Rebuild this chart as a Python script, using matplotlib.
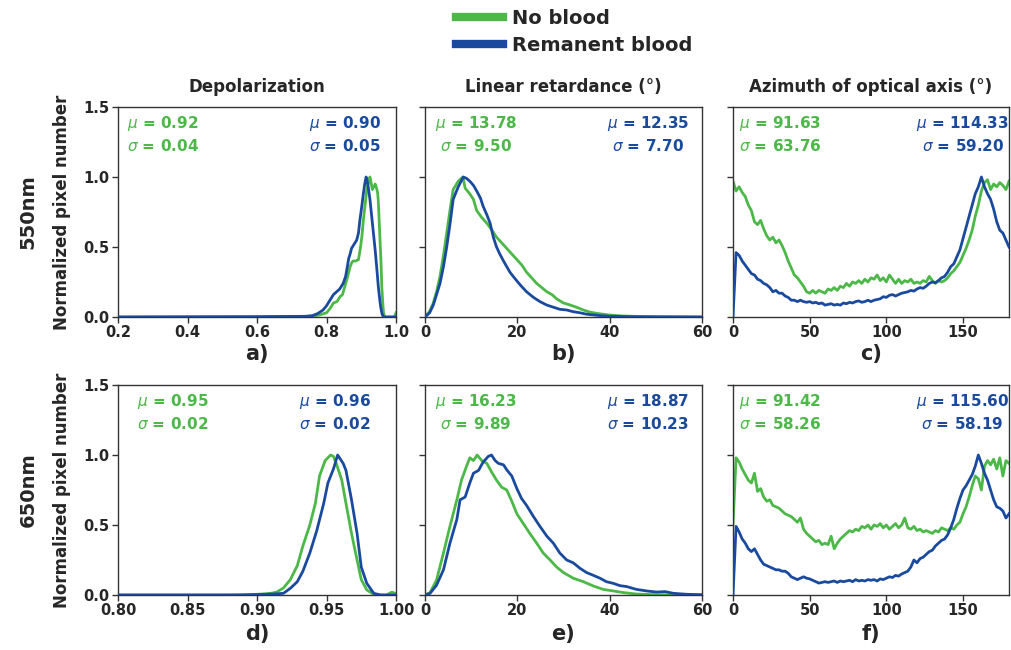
import numpy as np
import matplotlib.pyplot as plt
from matplotlib.lines import Line2D

GREEN = "#4cb848"
BLUE = "#1a4a9e"
DARK = "#262626"

# ---------------- Depolarization ----------------
dep550_nb_x = [0.20, 0.60, 0.76, 0.78, 0.80, 0.81, 0.82, 0.83, 0.839, 0.846, 0.853, 0.86, 0.868, 0.873,
               0.877, 0.884, 0.892, 0.898, 0.902, 0.906, 0.911, 0.916, 0.921, 0.925, 0.929, 0.932, 0.935,
               0.937, 0.940, 0.944, 0.947, 0.949, 0.951, 0.954, 0.957, 0.959, 0.962, 0.964, 0.968, 0.98,
               0.995, 1.0]
dep550_nb_y = [0, 0.002, 0.005, 0.015, 0.03, 0.06, 0.10, 0.11, 0.145, 0.16, 0.22, 0.28, 0.36, 0.39,
               0.40, 0.40, 0.41, 0.50, 0.58, 0.69, 0.80, 0.91, 0.96, 1.0, 0.95, 0.91, 0.93,
               0.93, 0.95, 0.92, 0.89, 0.83, 0.72, 0.55, 0.38, 0.22, 0.10, 0.03, 0.0, 0.0,
               0.0, 0.03]
dep550_rb_x = [0.20, 0.60, 0.74, 0.76, 0.775, 0.79, 0.80, 0.81, 0.82, 0.829, 0.838, 0.848, 0.855, 0.86,
               0.864, 0.868, 0.872, 0.877, 0.882, 0.887, 0.892, 0.896, 0.901, 0.906, 0.910, 0.914, 0.917,
               0.920, 0.925, 0.930, 0.935, 0.940, 0.945, 0.949, 0.953, 0.956, 0.960, 0.964, 1.0]
dep550_rb_y = [0, 0.002, 0.005, 0.01, 0.025, 0.05, 0.08, 0.12, 0.16, 0.18, 0.20, 0.24, 0.29, 0.36,
               0.42, 0.45, 0.49, 0.51, 0.53, 0.55, 0.60, 0.69, 0.78, 0.88, 0.95, 1.0, 0.97,
               0.93, 0.84, 0.72, 0.60, 0.48, 0.34, 0.22, 0.13, 0.07, 0.02, 0.0, 0.0]

dep650_nb_x = [0.80, 0.88, 0.90, 0.905, 0.91, 0.914, 0.919, 0.924, 0.929, 0.933, 0.938, 0.942, 0.945, 0.949,
               0.953, 0.955, 0.957, 0.961, 0.964, 0.968, 0.972, 0.975, 0.979, 0.984, 0.988, 0.993, 0.997, 1.0]
dep650_nb_y = [0, 0.0, 0.005, 0.008, 0.012, 0.02, 0.05, 0.11, 0.21, 0.35, 0.50, 0.655, 0.85, 0.96,
               1.0, 0.99, 0.94, 0.82, 0.655, 0.44, 0.25, 0.11, 0.036, 0.005, 0.0, 0.0, 0.02, 0.01]
dep650_rb_x = [0.80, 0.89, 0.907, 0.914, 0.919, 0.924, 0.929, 0.933, 0.938, 0.943, 0.948, 0.951, 0.955,
               0.958, 0.962, 0.964, 0.968, 0.972, 0.975, 0.979, 0.984, 0.989, 1.0]
dep650_rb_y = [0, 0.0, 0.005, 0.008, 0.012, 0.048, 0.095, 0.17, 0.30, 0.46, 0.655, 0.80, 0.90,
               1.0, 0.94, 0.89, 0.68, 0.44, 0.20, 0.083, 0.012, 0.0, 0.0]

# ---------------- Linear retardance ----------------
ret550_nb_x = [0, 1, 1.8, 2.5, 3.25, 4, 4.7, 5.4, 6.1, 7.2, 8.2, 8.7, 9.7, 10.5, 11.2, 12.3, 13.4, 14.5,
               15.5, 16.6, 17.7, 18.8, 19.9, 21, 22, 23.1, 24.2, 25.3, 26.4, 27.5, 28.5, 30, 31.4, 32.8,
               34.3, 35.7, 37.2, 38.6, 40, 42.5, 45, 50, 55, 60]
ret550_nb_y = [0, 0.04, 0.10, 0.18, 0.29, 0.44, 0.60, 0.76, 0.91, 0.97, 1.0, 0.92, 0.88, 0.84, 0.76, 0.71,
               0.67, 0.62, 0.57, 0.53, 0.49, 0.45, 0.41, 0.37, 0.32, 0.28, 0.24, 0.21, 0.18, 0.16, 0.13,
               0.10, 0.086, 0.07, 0.05, 0.035, 0.026, 0.02, 0.014, 0.008, 0.005, 0.002, 0.001, 0]
ret550_rb_x = [0, 1, 1.8, 2.5, 3.25, 4, 4.7, 5.4, 6.1, 7.2, 8.3, 9.0, 9.7, 10.5, 11.2, 12.0, 12.6, 13.4,
               14.1, 14.8, 15.5, 16.2, 17.0, 17.7, 18.4, 19.1, 20.6, 22.0, 23.5, 24.9, 26.4, 27.8, 29.2,
               30.7, 32.1, 33.6, 35, 37.9, 40, 45, 50, 60]
ret550_rb_y = [0, 0.03, 0.086, 0.16, 0.24, 0.36, 0.50, 0.66, 0.84, 0.93, 1.0, 0.99, 0.97, 0.94, 0.90,
               0.85, 0.79, 0.73, 0.67, 0.57, 0.50, 0.45, 0.40, 0.36, 0.32, 0.29, 0.23, 0.18, 0.14, 0.11,
               0.085, 0.07, 0.055, 0.05, 0.038, 0.03, 0.02, 0.01, 0.005, 0.002, 0.001, 0]

ret650_nb_x = [0, 1.1, 2.5, 4, 5.4, 6.9, 7.9, 9, 9.7, 10.5, 11.3, 12.3, 13.4, 14.4, 15.5, 16.6, 17.7,
               18.8, 19.9, 21.3, 22.7, 24.2, 25.6, 27.1, 28.5, 30, 32.1, 34.3, 36.5, 38.6, 40.8, 43, 45.8,
               50, 55, 60]
ret650_nb_y = [0, 0.017, 0.107, 0.30, 0.49, 0.68, 0.82, 0.92, 0.98, 0.96, 1.0, 0.96, 0.94, 0.88, 0.82,
               0.77, 0.75, 0.67, 0.58, 0.51, 0.44, 0.37, 0.30, 0.25, 0.20, 0.16, 0.12, 0.095, 0.064, 0.04,
               0.029, 0.017, 0.007, 0.002, 0, 0]
ret650_rb_x = [0, 1.1, 2.5, 4, 5.4, 6.9, 7.6, 8.7, 9.7, 10.5, 11.6, 12.6, 13.7, 14.4, 15.2, 15.9, 17,
               17.8, 18.8, 19.9, 20.9, 22, 23.5, 24.9, 26.4, 27.8, 29.2, 30.7, 32.1, 33.6, 35, 36.5, 37.9,
               39.3, 40.8, 42.2, 43.7, 45.8, 48, 50.1, 52, 53.8, 56.7, 60]
ret650_rb_y = [0, 0.012, 0.07, 0.18, 0.37, 0.54, 0.68, 0.70, 0.80, 0.87, 0.89, 0.95, 0.99, 1.0, 0.96,
               0.94, 0.93, 0.89, 0.85, 0.76, 0.69, 0.64, 0.56, 0.49, 0.42, 0.37, 0.30, 0.25, 0.23, 0.19,
               0.16, 0.14, 0.12, 0.095, 0.083, 0.067, 0.06, 0.04, 0.029, 0.021, 0.024, 0.012, 0.005, 0.002]

# ---------------- Azimuth of optical axis (2 degree bins) ----------------
azi_x = np.arange(0, 181, 2)
azi550_nb = [0.97, 0.90, 0.93, 0.89, 0.86, 0.80, 0.76, 0.68, 0.66, 0.69,
             0.63, 0.58, 0.55, 0.57, 0.53, 0.55, 0.51, 0.46, 0.40, 0.35,
             0.30, 0.28, 0.25, 0.22, 0.18, 0.17, 0.19, 0.17, 0.19, 0.18,
             0.17, 0.20, 0.19, 0.21, 0.19, 0.22, 0.21, 0.24, 0.22, 0.25,
             0.24, 0.26, 0.24, 0.27, 0.25, 0.28, 0.27, 0.30, 0.26, 0.28,
             0.25, 0.30, 0.27, 0.24, 0.27, 0.24, 0.26, 0.25, 0.27, 0.24,
             0.25, 0.24, 0.26, 0.25, 0.29, 0.26, 0.24, 0.26, 0.25, 0.26,
             0.28, 0.31, 0.33, 0.36, 0.39, 0.44, 0.49, 0.55, 0.62, 0.72,
             0.80, 0.90, 0.96, 0.98, 0.91, 0.95, 0.93, 0.96, 0.94, 0.91,
             0.97]
azi550_rb = [0.0, 0.46, 0.44, 0.40, 0.37, 0.34, 0.31, 0.30, 0.27, 0.26,
             0.24, 0.23, 0.21, 0.18, 0.19, 0.17, 0.17, 0.15, 0.14, 0.12,
             0.12, 0.11, 0.12, 0.11, 0.105, 0.11, 0.10, 0.105, 0.095, 0.10,
             0.085, 0.09, 0.095, 0.085, 0.09, 0.085, 0.10, 0.095, 0.105, 0.10,
             0.11, 0.115, 0.105, 0.11, 0.12, 0.11, 0.12, 0.125, 0.13, 0.145,
             0.14, 0.155, 0.16, 0.15, 0.16, 0.17, 0.175, 0.18, 0.19, 0.185,
             0.20, 0.21, 0.205, 0.22, 0.24, 0.25, 0.245, 0.26, 0.28, 0.29,
             0.32, 0.36, 0.38, 0.43, 0.48, 0.56, 0.64, 0.72, 0.80, 0.88,
             0.93, 1.0, 0.93, 0.88, 0.84, 0.77, 0.68, 0.62, 0.60, 0.55,
             0.50]
azi650_nb = [0.50, 0.98, 0.95, 0.90, 0.86, 0.82, 0.80, 0.87, 0.74, 0.76,
             0.70, 0.67, 0.68, 0.64, 0.63, 0.62, 0.60, 0.58, 0.57, 0.56,
             0.54, 0.52, 0.55, 0.47, 0.44, 0.42, 0.40, 0.38, 0.39, 0.36,
             0.37, 0.36, 0.42, 0.33, 0.37, 0.40, 0.42, 0.44, 0.46, 0.45,
             0.47, 0.46, 0.49, 0.48, 0.50, 0.47, 0.50, 0.49, 0.51, 0.48,
             0.50, 0.47, 0.49, 0.51, 0.48, 0.50, 0.55, 0.48, 0.47, 0.49,
             0.46, 0.47, 0.45, 0.46, 0.45, 0.44, 0.46, 0.45, 0.48, 0.47,
             0.46, 0.48, 0.47, 0.50, 0.52, 0.58, 0.63, 0.70, 0.78, 0.85,
             0.83, 0.75, 0.92, 0.96, 0.93, 0.97, 0.90, 0.98, 0.85, 0.96,
             0.94]
azi650_rb = [0.0, 0.49, 0.45, 0.40, 0.37, 0.33, 0.31, 0.33, 0.29, 0.25,
             0.22, 0.21, 0.20, 0.19, 0.18, 0.18, 0.17, 0.17, 0.155, 0.13,
             0.12, 0.11, 0.12, 0.13, 0.12, 0.115, 0.105, 0.095, 0.085, 0.09,
             0.095, 0.09, 0.095, 0.10, 0.09, 0.10, 0.095, 0.10, 0.105, 0.095,
             0.11, 0.10, 0.105, 0.10, 0.11, 0.105, 0.11, 0.10, 0.115, 0.11,
             0.12, 0.13, 0.125, 0.14, 0.135, 0.15, 0.16, 0.17, 0.20, 0.25,
             0.23, 0.26, 0.27, 0.29, 0.31, 0.32, 0.35, 0.37, 0.39, 0.40,
             0.43, 0.48, 0.54, 0.62, 0.69, 0.75, 0.78, 0.82, 0.86, 0.92,
             1.0, 0.94, 0.87, 0.82, 0.75, 0.68, 0.63, 0.62, 0.60, 0.55,
             0.58]

titles = ["Depolarization", "Linear retardance (°)", "Azimuth of optical axis (°)"]
row_labels = ["550nm", "650nm"]
panel_labels = ["a)", "b)", "c)", "d)", "e)", "f)"]
stats_nb = [("0.92", "0.04"), ("13.78", "9.50"), ("91.63", "63.76"),
            ("0.95", "0.02"), ("16.23", "9.89"), ("91.42", "58.26")]
stats_rb = [("0.90", "0.05"), ("12.35", "7.70"), ("114.33", "59.20"),
            ("0.96", "0.02"), ("18.87", "10.23"), ("115.60", "58.19")]

curves = [
    ((dep550_nb_x, dep550_nb_y), (dep550_rb_x, dep550_rb_y)),
    ((ret550_nb_x, ret550_nb_y), (ret550_rb_x, ret550_rb_y)),
    ((azi_x, azi550_nb), (azi_x, azi550_rb)),
    ((dep650_nb_x, dep650_nb_y), (dep650_rb_x, dep650_rb_y)),
    ((ret650_nb_x, ret650_nb_y), (ret650_rb_x, ret650_rb_y)),
    ((azi_x, azi650_nb), (azi_x, azi650_rb)),
]
xlims = [(0.2, 1.0), (0, 60), (0, 180), (0.8, 1.0), (0, 60), (0, 180)]
xticks = [[0.2, 0.4, 0.6, 0.8, 1.0], [0, 20, 40, 60], [0, 50, 100, 150],
          [0.80, 0.85, 0.90, 0.95, 1.00], [0, 20, 40, 60], [0, 50, 100, 150]]
xfmt = ["{:.1f}", "{:.0f}", "{:.0f}", "{:.2f}", "{:.0f}", "{:.0f}"]

# text anchor positions (axes fraction) for the stats boxes
nb_pos = [0.032, 0.036, 0.022, 0.068, 0.036, 0.022]
rb_pos = [0.946, 0.953, 1.0, 0.910, 0.953, 1.0]

W, H = 1011, 650
fig = plt.figure(figsize=(W / 100, H / 100), dpi=100)
lefts = [118, 425, 733]
widths = [278, 277, 276]
tops = [107, 385]
ax_h = 210

for i in range(6):
    r, c = divmod(i, 3)
    ax = fig.add_axes([lefts[c] / W, 1 - (tops[r] + ax_h) / H, widths[c] / W, ax_h / H])
    (gx, gy), (bx, by) = curves[i]
    ax.plot(gx, gy, color=GREEN, lw=2.0, zorder=2)
    ax.plot(bx, by, color=BLUE, lw=2.0, zorder=3)
    ax.set_xlim(*xlims[i])
    ax.set_ylim(0, 1.5)
    ax.set_xticks(xticks[i])
    ax.set_xticklabels([xfmt[i].format(v) for v in xticks[i]], fontweight="bold", fontsize=10.5, color=DARK)
    ax.set_yticks([0, 0.5, 1.0, 1.5])
    if c == 0:
        ax.set_yticklabels(["0.0", "0.5", "1.0", "1.5"], fontweight="bold", fontsize=10.5, color=DARK)
    else:
        ax.set_yticklabels([])
    ax.tick_params(direction="out", length=4, width=1, color="#333333", pad=2)
    for s in ax.spines.values():
        s.set_color("#333333")
        s.set_linewidth(1)
    if r == 0:
        ax.set_title(titles[c], fontsize=12, fontweight="bold", color=DARK, pad=11)

    m, sd = stats_nb[i]
    ax.text(nb_pos[i], 0.965, f"$\\mu$ = {m}\n$\\sigma$ = {sd}", transform=ax.transAxes,
            ha="left", va="top", ma="center", color=GREEN, fontsize=11, fontweight="bold",
            linespacing=1.35)
    m, sd = stats_rb[i]
    ax.text(rb_pos[i], 0.965, f"$\\mu$ = {m}\n$\\sigma$ = {sd}", transform=ax.transAxes,
            ha="right", va="top", ma="center", color=BLUE, fontsize=11, fontweight="bold",
            linespacing=1.35)

    ax.text(0.5, -0.175 if r == 0 else -0.185, panel_labels[i], transform=ax.transAxes,
            ha="center", va="center", fontsize=15, fontweight="bold", color=DARK)

# row labels and y labels
for r, lab in enumerate(row_labels):
    yc = 1 - (tops[r] + ax_h / 2) / H
    fig.text(28 / W, yc, lab, rotation=90, ha="center", va="center",
             fontsize=14, fontweight="bold", color=DARK)
    fig.text(62 / W, yc, "Normalized pixel number", rotation=90, ha="center", va="center",
             fontsize=12, fontweight="bold", color=DARK)

handles = [Line2D([], [], color=GREEN, lw=6), Line2D([], [], color=BLUE, lw=6)]
fig.legend(handles, ["No blood", "Remanent blood"], loc="center",
           bbox_to_anchor=(574 / W, 1 - 32 / H), frameon=False,
           prop={"weight": "bold", "size": 14}, handlelength=2.4, handletextpad=0.45,
           labelspacing=0.4, labelcolor=DARK)

fig.savefig("out.png", dpi=100)
